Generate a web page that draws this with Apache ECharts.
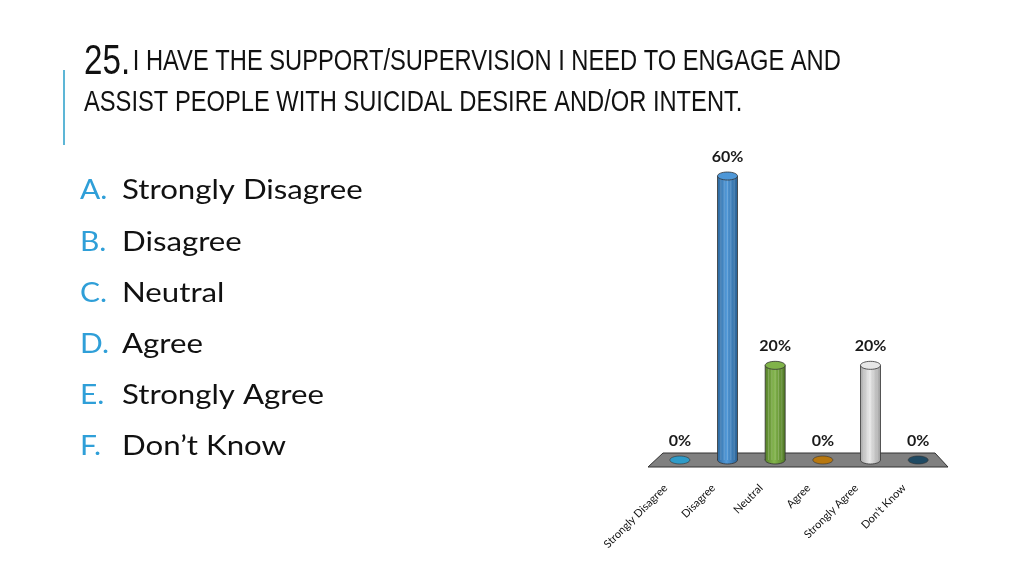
<!DOCTYPE html>
<html lang="en" style="height: 100%">
<head>
    <meta charset="utf-8">
</head>
<body style="height: 100%; margin: 0; background: #fff">
    <div id="container" style="width: 1024px; height: 576px"></div>
    <script type="text/javascript" src="https://cdn.jsdelivr.net/npm/echarts@6/dist/echarts.min.js"></script>
    <script type="text/javascript">
    // survey data
    const categories = ['Strongly Disagree', 'Disagree', 'Neutral', 'Agree', 'Strongly Agree', "Don't Know"];
    const percents = [0, 60, 20, 0, 20, 0];
    const barColors = ['#2e9bc8', '#3a8bd3', '#72ab35', '#b7770f', '#e4e4e4', '#1f4a63'];
    const answerLetters = ['A.', 'B.', 'C.', 'D.', 'E.', 'F.'];
    const titleNumber = '25.';
    const titleLines = ['I HAVE THE SUPPORT/SUPERVISION I NEED TO ENGAGE AND', 'ASSIST PEOPLE WITH SUICIDAL DESIRE AND/OR INTENT.'];

    var dom = document.getElementById('container');
    var myChart = echarts.init(dom, null, { renderer: 'canvas' });
    var option;

    function shade(hex, amt) {
        let n = parseInt(hex.slice(1), 16);
        let r = n >> 16, g = (n >> 8) & 255, b = n & 255;
        const f = c => Math.max(0, Math.min(255, Math.round(amt < 0 ? c * (1 + amt) : c + (255 - c) * amt)));
        return 'rgb(' + f(r) + ',' + f(g) + ',' + f(b) + ')';
    }

    function renderCylinder(params, api) {
        const i = api.value(0);
        const v = api.value(1);
        const base = api.coord([i, 0]);
        const top = api.coord([i, v]);
        const w = 20, ry = 4;
        const c = barColors[i];
        const children = [];
        const side = new echarts.graphic.LinearGradient(0, 0, 1, 0, [
            { offset: 0, color: shade(c, -0.25) },
            { offset: 0.45, color: shade(c, 0.12) },
            { offset: 1, color: shade(c, -0.3) }
        ]);
        if (v > 0) {
            children.push({ type: 'ellipse', shape: { cx: base[0], cy: base[1], rx: w / 2, ry: ry }, style: { fill: side, stroke: '#333', lineWidth: 0.8 } });
            children.push({ type: 'rect', shape: { x: base[0] - w / 2, y: top[1], width: w, height: base[1] - top[1] }, style: { fill: side } });
            for (let k = 1; k < 6; k++) {
                const lx = base[0] - w / 2 + k * w / 6;
                children.push({ type: 'line', shape: { x1: lx, y1: top[1], x2: lx, y2: base[1] }, style: { stroke: 'rgba(255,255,255,0.18)', lineWidth: 1 } });
            }
            children.push({ type: 'line', shape: { x1: base[0] - w / 2, y1: top[1], x2: base[0] - w / 2, y2: base[1] }, style: { stroke: '#333', lineWidth: 0.8 } });
            children.push({ type: 'line', shape: { x1: base[0] + w / 2, y1: top[1], x2: base[0] + w / 2, y2: base[1] }, style: { stroke: '#333', lineWidth: 0.8 } });
            children.push({ type: 'ellipse', shape: { cx: top[0], cy: top[1], rx: w / 2, ry: ry }, style: { fill: shade(c, 0.1), stroke: '#333', lineWidth: 0.8 } });
        } else {
            children.push({ type: 'ellipse', shape: { cx: base[0], cy: base[1], rx: w / 2, ry: ry }, style: { fill: c, stroke: '#333', lineWidth: 0.6 } });
        }
        children.push({
            type: 'text',
            style: { text: v + '%', x: top[0], y: top[1] - 19, align: 'center', verticalAlign: 'middle', font: 'bold 16px Lato', fill: '#1a1a1a' }
        });
        return { type: 'group', children: children };
    }

    // slide texts
    let graphics = [
        { type: 'rect', shape: { x: 63, y: 70, width: 2, height: 75 }, style: { fill: '#5db6d6' } },
        {
            type: 'text', x: 84, y: 62, scaleX: 0.79,
            style: {
                text: '{n|' + titleNumber + '} {t|' + titleLines[0] + '}',
                verticalAlign: 'middle',
                rich: {
                    n: { fontFamily: 'Liberation Sans', fontSize: 42, fill: '#111' },
                    t: { fontFamily: 'Liberation Sans', fontSize: 30, fill: '#111' }
                }
            }
        },
        {
            type: 'text', x: 84, y: 103, scaleX: 0.79,
            style: { text: titleLines[1], verticalAlign: 'middle', font: '30px Liberation Sans', fill: '#111' }
        },
        {
            type: 'polygon', z: 0,
            shape: { points: [[663, 453], [935, 453], [948, 467], [648, 467]] },
            style: { fill: '#808080', stroke: '#333', lineWidth: 1 }
        }
    ];
    categories.forEach((name, i) => {
        graphics.push({ type: 'text', x: 80, y: 191 + i * 51.2, scaleX: 1.15, style: { text: answerLetters[i], verticalAlign: 'middle', font: '26px Lato', fill: '#2f9fd8' } });
        graphics.push({ type: 'text', x: 122, y: 191 + i * 51.2, scaleX: 1.2, style: { text: name.replace("'", '\u2019'), verticalAlign: 'middle', font: '26px Lato', fill: '#111' } });
    });

    option = {
        animation: false,
        backgroundColor: '#fff',
        graphic: graphics,
        grid: { left: 656, right: 82, top: 176, bottom: 116 },
        xAxis: {
            type: 'category',
            data: categories,
            axisLine: { show: false },
            axisTick: { show: false },
            axisLabel: {
                rotate: 45,
                margin: 12,
                padding: [0, 20, 0, 0],
                interval: 0,
                fontFamily: 'Lato',
                fontSize: 11,
                color: '#111'
            }
        },
        yAxis: { type: 'value', min: 0, max: 60, show: false },
        series: [{
            type: 'custom',
            z: 5,
            renderItem: renderCylinder,
            data: percents.map((p, i) => [i, p])
        }]
    };

    myChart.setOption(option);
    </script>
</body>
</html>
